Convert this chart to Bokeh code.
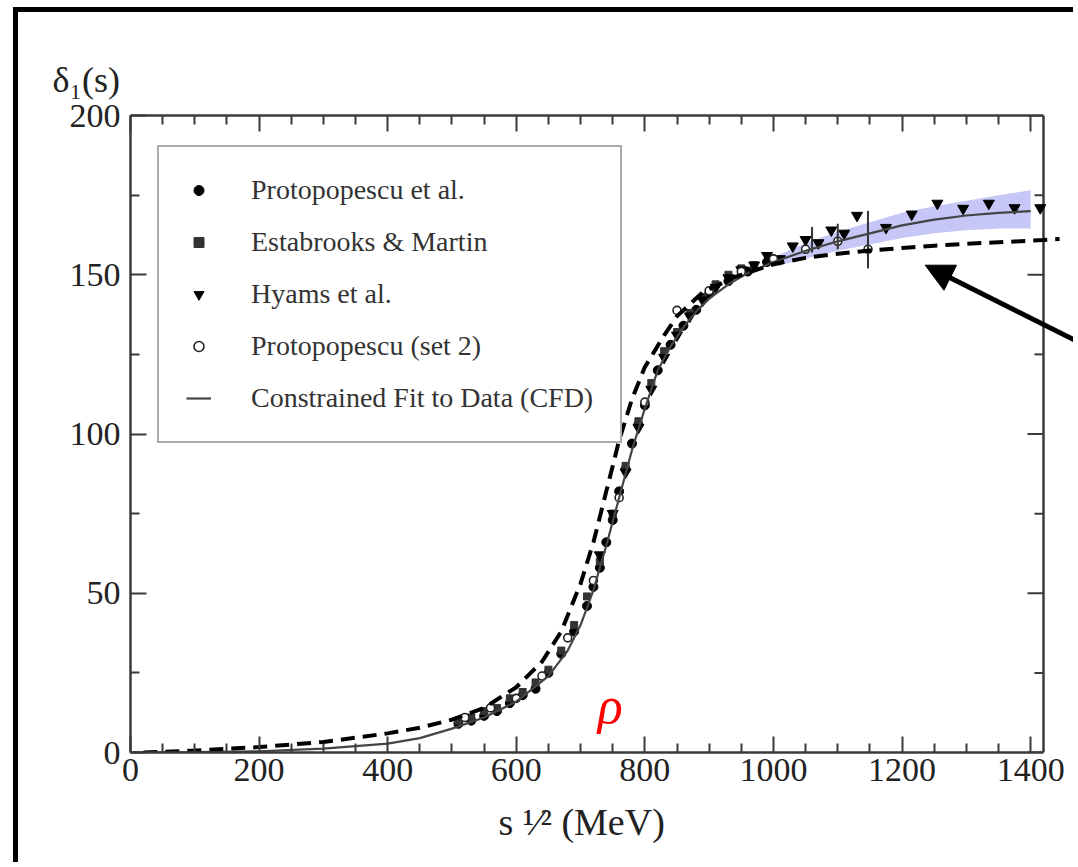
from bokeh.plotting import figure
from bokeh.models import (Range1d, LinearAxis, FixedTicker, Legend, LegendItem,
                          Label, Arrow, NormalHead, Title)
from bokeh.embed import file_html
from bokeh.resources import INLINE

# ---------------- data ----------------
cfd_x = [0, 100, 200, 300, 400, 450, 500, 550, 600, 650, 680, 700, 720, 740, 760,
         780, 800, 820, 840, 860, 880, 900, 930, 960, 1000, 1050, 1100, 1150, 1200,
         1250, 1300, 1350, 1400]
cfd_y = [0, 0.1, 0.4, 1.2, 2.8, 4.5, 7.5, 11, 16, 24, 32, 40, 51, 65, 80,
         95, 108, 120, 127.5, 133.5, 138.5, 142.5, 147, 150.5, 154, 157.5, 160.5, 163, 165.5,
         167.3, 168.6, 169.4, 170]

band_x = [1000, 1050, 1100, 1150, 1200, 1250, 1300, 1350, 1400]
band_lo = [152.5, 155, 157.5, 159.5, 161.5, 163, 164, 164.5, 164.5]
band_hi = [155.5, 160, 163.5, 166.5, 169.5, 171.5, 173.2, 175, 176.5]

dash_x = [20, 100, 200, 300, 400, 450, 500, 550, 600, 640, 670, 700, 720, 740, 760,
          780, 800, 830, 850, 890, 940, 1000, 1050, 1100, 1150, 1200, 1250, 1300,
          1350, 1400, 1420, 1445]
dash_y = [0, 0.6, 1.7, 3.3, 6, 7.8, 10.3, 14, 20.5, 28.5, 38, 53, 66, 82, 98,
          111, 121, 131, 137, 144.5, 149.3, 153.3, 155.3, 156.6, 157.6, 158.4, 159.1, 159.7,
          160.2, 160.7, 160.9, 161.2]

prot_x = [510, 530, 550, 570, 590, 610, 630, 650, 670, 690, 710, 720, 730, 740, 750,
          760, 770, 780, 790, 800, 820, 840, 860, 880, 900, 930, 960, 990]
prot_y = [9, 10, 11.5, 13, 15.5, 18, 20, 25, 31, 38, 46, 52, 58, 66, 73,
          82, 89, 97, 103, 109, 120, 128, 134, 139, 144, 148, 151, 154]

est_x = [510, 530, 550, 570, 590, 610, 630, 650, 670, 690, 710, 730, 750, 770, 790,
         810, 830, 850, 870, 890, 910, 930, 950, 970]
est_y = [10, 11, 13, 14, 17, 19, 22, 26, 32, 40, 49, 60, 75, 90, 104,
         116, 126, 132, 138, 143, 147, 150, 152, 153]

hyams_x = [730, 750, 770, 790, 810, 830, 850, 870, 890, 910, 930, 950, 970, 990,
           1010, 1030, 1050, 1070, 1090, 1110, 1130, 1175, 1215, 1255, 1295, 1335,
           1375, 1415]
hyams_y = [62, 75, 88, 102, 114, 124, 131, 137, 142, 146, 149, 151.5, 153, 156,
           155, 159, 161, 160, 164, 163, 168.6, 164.8, 169, 172.4, 170.8, 172.4,
           171, 171]

prot2_x = [520, 560, 600, 640, 680, 720, 760, 800, 850, 900, 950, 1000, 1050, 1100, 1147]
prot2_y = [11, 14, 17, 24, 36, 54, 80, 110, 138.8, 145, 151, 155, 158, 160.5, 158]

err_x = [1060, 1100, 1147]
err_lo = [157, 158, 152]
err_hi = [165, 166, 170]

x_major = [0, 200, 400, 600, 800, 1000, 1200, 1400]
x_minor = [50, 100, 150, 250, 300, 350, 450, 500, 550, 650, 700, 750, 850, 900, 950,
           1050, 1100, 1150, 1250, 1300, 1350]
y_major = [0, 50, 100, 150, 200]
y_minor = [25, 75, 125, 175]

x_label = "s \u00b9\u2044\u00b2 (MeV)"
y_label = "\u03b4\u2081(s)"

X_BOX = 1420          # right edge of the drawn box (data units)
Y_BOX = 200
SERIF = "Liberation Serif"
AX = "#3a3a3a"

W, H = 1060, 855
LEFT, TOP, BOTTOM = 112, 103, 115
frame_w = W - LEFT
BOX_PX = 913                      # pixel width of the 0..1420 box
px_per_x = BOX_PX / X_BOX
x_end = frame_w / px_per_x

p = figure(width=W, height=H, x_range=Range1d(0, x_end), y_range=Range1d(0, Y_BOX),
           output_backend="svg", toolbar_location=None,
           min_border_left=LEFT, min_border_right=0, min_border_top=TOP,
           min_border_bottom=BOTTOM)
p.styles = {"margin-left": "13px", "margin-top": "7px",
            "border-left": "5px solid black", "border-top": "5px solid black"}
p.xgrid.visible = False
p.ygrid.visible = False
p.outline_line_color = None
p.background_fill_color = "white"
p.border_fill_color = "white"


def style_axis(ax, major, minor, labels=True):
    ax.ticker = FixedTicker(ticks=major, minor_ticks=minor)
    ax.axis_line_color = AX
    ax.axis_line_width = 2.5
    ax.major_tick_in = 16
    ax.major_tick_out = 0
    ax.minor_tick_in = 9
    ax.minor_tick_out = 0
    ax.major_tick_line_color = AX
    ax.major_tick_line_width = 2
    ax.minor_tick_line_color = AX
    ax.minor_tick_line_width = 2
    if labels:
        ax.major_label_text_font = SERIF
        ax.major_label_text_font_size = "34px"
        ax.major_label_text_color = "#222222"
    else:
        ax.major_label_text_font_size = "1px"
        ax.major_label_text_color = None
        ax.major_label_standoff = 0


xb = p.xaxis[0]
style_axis(xb, x_major, x_minor)
xb.bounds = (0, X_BOX)
xb.major_label_standoff = 6

yl = p.yaxis[0]
style_axis(yl, y_major, y_minor)
yl.major_label_standoff = 10

xt = LinearAxis(bounds=(0, X_BOX))
style_axis(xt, x_major, x_minor, labels=False)
p.add_layout(xt, "above")

# axis titles (placed like the original: y title above the axis, x title centred on the box)
p.add_layout(Title(text=y_label, align="left", offset=-78, standoff=31,
                   text_font=SERIF, text_font_size="36px", text_font_style="normal",
                   text_color="#222222"), "above")
p.add_layout(Title(text=x_label, align="left", offset=368,
                   standoff=30, text_font=SERIF, text_font_size="38px",
                   text_font_style="normal", text_color="#222222"), "below")

# right edge of the box with inward ticks
p.line([X_BOX, X_BOX], [0, Y_BOX], line_color=AX, line_width=2.5)
p.segment(x0=[X_BOX] * len(y_major), y0=y_major,
          x1=[X_BOX - 16 / px_per_x] * len(y_major), y1=y_major,
          line_color=AX, line_width=2)
p.segment(x0=[X_BOX] * len(y_minor), y0=y_minor,
          x1=[X_BOX - 9 / px_per_x] * len(y_minor), y1=y_minor,
          line_color=AX, line_width=2)

# error band of the constrained fit
p.varea(x=band_x, y1=band_lo, y2=band_hi, fill_color="#8080ee", fill_alpha=0.45)

# data sets
r_prot = p.scatter(prot_x, prot_y, marker="circle", size=9, fill_color="black",
                   line_color="black")
r_est = p.scatter(est_x, est_y, marker="square", size=7, fill_color="#333333",
                  line_color="#333333")
r_hy = p.scatter(hyams_x, hyams_y, marker="inverted_triangle", size=11,
                 fill_color="black", line_color="black")
r_p2 = p.scatter(prot2_x, prot2_y, marker="circle", size=8, fill_color="white",
                 line_color="#222222", line_width=1.6)
p.segment(x0=err_x, y0=err_lo, x1=err_x, y1=err_hi, line_color="#333333", line_width=2)

r_cfd = p.line(cfd_x, cfd_y, line_color="#444444", line_width=2.2)

# dashed curve
p.line(dash_x, dash_y, line_color="black", line_width=4, line_dash="14 8")

# pointing arrow
p.add_layout(Arrow(end=NormalHead(size=28, fill_color="black", line_color="black"),
                   x_start=1507, y_start=125.6, x_end=1236, y_end=153,
                   line_color="black", line_width=5))

# rho label
p.add_layout(Label(x=746, y=14.8, text="\u03c1", text_color="red",
                   text_font=SERIF, text_font_style="italic", text_font_size="52px",
                   text_align="center", text_baseline="alphabetic"))

legend = Legend(items=[
    LegendItem(label="Protopopescu et al.", renderers=[r_prot]),
    LegendItem(label="Estabrooks & Martin", renderers=[r_est]),
    LegendItem(label="Hyams et al.", renderers=[r_hy]),
    LegendItem(label="Protopopescu (set 2)", renderers=[r_p2]),
    LegendItem(label="Constrained Fit to Data (CFD)", renderers=[r_cfd]),
], location=(27, 309), margin=0, padding=27, spacing=20,
    glyph_width=25, glyph_height=30, label_height=30, label_standoff=40,
    label_text_font=SERIF, label_text_font_size="28px", label_text_color="#333333",
    border_line_color="#555555", border_line_width=2,
    background_fill_color="white", background_fill_alpha=1)
p.add_layout(legend)

open("out.html", "w").write(file_html(p, INLINE))
